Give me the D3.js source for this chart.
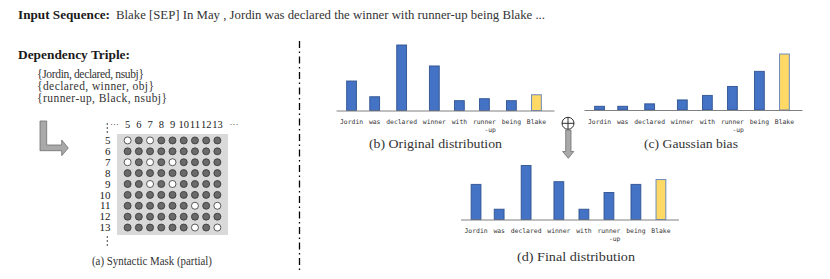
<!DOCTYPE html>
<html>
<head>
<meta charset="utf-8">
<script src="https://cdn.jsdelivr.net/npm/d3@7"></script>
<style>
  body { margin: 0; background: #fff; }
  svg { display: block; }
</style>
</head>
<body>
<script>
// ---- data ----
const inputSequence = "Blake [SEP] In May , Jordin was declared the winner with runner-up being Blake ...";
const triples = ["{Jordin, declared, nsubj}", "{declared, winner, obj}", "{runner-up, Black, nsubj}"];

const tokens = ["Jordin", "was", "declared", "winner", "with", "runner\n-up", "being", "Blake"];
const originalDist = [0.45, 0.21, 1.0, 0.68, 0.15, 0.18, 0.15, 0.24];
const gaussianBias = [0.066, 0.066, 0.11, 0.18, 0.26, 0.42, 0.69, 1.0];
const finalDist = [0.65, 0.19, 1.0, 0.70, 0.19, 0.50, 0.65, 0.74];
const targetToken = "Blake";

const maskIdx = [5, 6, 7, 8, 9, 10, 11, 12, 13];
// [row, col] cells that are open (white) in the mask
const openCells = [[5, 5], [5, 7], [7, 5], [7, 7], [7, 9], [9, 7], [9, 9], [11, 11], [11, 13], [13, 11], [13, 13]];

const serif = "'Liberation Serif', 'DejaVu Serif', serif";
const mono = "'DejaVu Sans Mono', 'Liberation Mono', monospace";
const ink = "#1a1a1a";

const svg = d3.select("body").append("svg")
  .attr("width", 830)
  .attr("height", 279);

// fit text into a measured width
function fitText(sel, len, mode) {
  sel.attr("textLength", len).attr("lengthAdjust", mode || "spacingAndGlyphs");
}

// ---- header ----
svg.append("text")
  .attr("x", 18).attr("y", 19)
  .attr("font-family", serif).attr("font-size", 12.5).attr("font-weight", "bold")
  .attr("fill", ink)
  .text("Input Sequence:")
  .call(fitText, 92);

svg.append("text")
  .attr("x", 116).attr("y", 19)
  .attr("font-family", serif).attr("font-size", 12.5)
  .attr("fill", "#333")
  .text(inputSequence)
  .call(fitText, 429);

// ---- left panel ----
svg.append("text")
  .attr("x", 18).attr("y", 59)
  .attr("font-family", serif).attr("font-size", 13).attr("font-weight", "bold")
  .attr("fill", ink)
  .text("Dependency Triple:")
  .call(fitText, 112);

const tripleLen = [107, 117, 130];
svg.selectAll("text.triple")
  .data(triples)
  .join("text")
  .attr("class", "triple")
  .attr("x", 37)
  .attr("y", (d, i) => 77.5 + i * 12)
  .attr("font-family", serif).attr("font-size", 11.5)
  .attr("fill", "#333")
  .text(d => d)
  .each(function (d, i) { d3.select(this).call(fitText, tripleLen[i], "spacing"); });

// bent arrow
svg.append("path")
  .attr("d", "M40,121 H46.7 V145 H61.7 V140 L68.3,148 L61.7,155.7 V150.7 H40 Z")
  .attr("fill", "#a9a9a9")
  .attr("stroke", "#6f6f6f")
  .attr("stroke-width", 0.8);

// syntactic mask
const colX = d3.scaleBand().domain(maskIdx).range([122, 223]);
const rowY = d3.scaleBand().domain(maskIdx).range([135, 233]);
const openSet = new Set(openCells.map(d => d.join("-")));

svg.append("rect")
  .attr("x", 117).attr("y", 134)
  .attr("width", 111).attr("height", 101)
  .attr("fill", "#d9d9d9");

const cells = maskIdx.flatMap(r => maskIdx.map(c => ({ r, c })));
svg.selectAll("circle.cell")
  .data(cells)
  .join("circle")
  .attr("class", "cell")
  .attr("cx", d => colX(d.c) + colX.bandwidth() / 2)
  .attr("cy", d => rowY(d.r) + rowY.bandwidth() / 2)
  .attr("r", 3.5)
  .attr("fill", d => openSet.has(d.r + "-" + d.c) ? "#fff" : "#6a6a6a")
  .attr("stroke", "#333")
  .attr("stroke-width", 0.8);

svg.selectAll("text.colLab")
  .data(maskIdx)
  .join("text")
  .attr("class", "colLab")
  .attr("x", d => colX(d) + colX.bandwidth() / 2)
  .attr("y", 128)
  .attr("text-anchor", "middle")
  .attr("font-family", serif).attr("font-size", 10.5)
  .attr("fill", ink)
  .text(d => d)
  .each(function (d) { if (d >= 10) d3.select(this).call(fitText, 10.5); });

svg.append("text")
  .attr("x", 114.5).attr("y", 127).attr("text-anchor", "middle")
  .attr("font-family", serif).attr("font-size", 9).attr("fill", ink)
  .text("\u00b7\u00b7\u00b7");
svg.append("text")
  .attr("x", 234).attr("y", 127).attr("text-anchor", "middle")
  .attr("font-family", serif).attr("font-size", 9).attr("fill", ink)
  .text("\u00b7\u00b7\u00b7");

svg.selectAll("text.rowLab")
  .data(maskIdx)
  .join("text")
  .attr("class", "rowLab")
  .attr("x", 110.5)
  .attr("y", d => rowY(d) + rowY.bandwidth() / 2 + 3.7)
  .attr("text-anchor", "end")
  .attr("font-family", serif).attr("font-size", 11)
  .attr("fill", ink)
  .text(d => d);

// vertical ellipses
[[124, 128, 132], [237, 241, 245]].forEach(ys => {
  svg.append("g").selectAll("circle")
    .data(ys)
    .join("circle")
    .attr("cx", 107.3).attr("cy", d => d).attr("r", 0.75)
    .attr("fill", ink);
});

svg.append("text")
  .attr("x", 152).attr("y", 264.5).attr("text-anchor", "middle")
  .attr("font-family", serif).attr("font-size", 13)
  .attr("fill", "#333")
  .text("(a) Syntactic Mask (partial)")
  .call(fitText, 120);

// divider
svg.append("line")
  .attr("x1", 299.5).attr("x2", 299.5)
  .attr("y1", 41).attr("y2", 273)
  .attr("stroke", "#000")
  .attr("stroke-width", 1.3)
  .attr("stroke-dasharray", "7,3.5,1.5,3.5");

// ---- distribution charts ----
// measure monospace character width for the token labels
const probe = svg.append("text")
  .attr("font-family", mono).attr("font-size", 6.4)
  .text("declared");
const charW = probe.node().getComputedTextLength() / 8;
probe.remove();
const gap = 5.8;

function tokenWidth(t) {
  return d3.max(t.split("\n"), s => s.length) * charW;
}

function drawDist(values, opt) {
  const g = svg.append("g");
  // label-driven x positions
  const starts = [];
  let acc = opt.x0 + 3.5;
  tokens.forEach(t => { starts.push(acc); acc += tokenWidth(t) + gap; });
  const centers = tokens.map((t, i) => starts[i] + tokenWidth(t) / 2);
  const x = d3.scaleOrdinal().domain(tokens).range(centers);
  const y = d3.scaleLinear().domain([0, 1]).range([opt.base, opt.base - opt.maxH]);
  const bw = 9.8;

  const data = tokens.map((t, i) => ({ t, v: values[i] }));

  g.selectAll("rect")
    .data(data)
    .join("rect")
    .attr("x", d => x(d.t) - bw / 2)
    .attr("y", d => y(d.v))
    .attr("width", bw)
    .attr("height", d => y(0) - y(d.v))
    .attr("fill", d => d.t === targetToken ? "#ffd966" : "#4472c4")
    .attr("stroke", d => d.t === targetToken ? "#5b7fc0" : "#2f528f")
    .attr("stroke-width", 1)
    .attr("stroke-opacity", 0.9);

  g.append("line")
    .attr("x1", opt.x0).attr("x2", opt.x0 + 218)
    .attr("y1", opt.base + 0.5).attr("y2", opt.base + 0.5)
    .attr("stroke", "#808080")
    .attr("stroke-width", 1);

  const lab = g.selectAll("text.tok")
    .data(tokens)
    .join("text")
    .attr("class", "tok")
    .attr("font-family", mono).attr("font-size", 6.4)
    .attr("fill", "#333");
  lab.each(function (t, i) {
    const lines = t.split("\n");
    const w = tokenWidth(t);
    lines.forEach((s, k) => {
      d3.select(this).append("tspan")
        .attr("x", starts[i] + w - s.length * charW)
        .attr("y", opt.base + 13.5 + k * 8)
        .text(s);
    });
  });

  g.append("text")
    .attr("x", opt.capX).attr("y", opt.capY)
    .attr("text-anchor", "middle")
    .attr("font-family", serif).attr("font-size", 13.5)
    .attr("fill", "#333")
    .text(opt.caption)
    .call(fitText, opt.capW);
}

drawDist(originalDist, { x0: 336.5, base: 110.5, maxH: 65.5, caption: "(b) Original distribution", capX: 435.5, capY: 147.5, capW: 133 });
drawDist(gaussianBias, { x0: 584.5, base: 110, maxH: 56, caption: "(c) Gaussian bias", capX: 691, capY: 147.5, capW: 94 });
drawDist(finalDist, { x0: 461, base: 219.5, maxH: 54, caption: "(d) Final distribution", capX: 576, capY: 260.5, capW: 118 });

// oplus and down arrow between the charts
const op = svg.append("g").attr("transform", "translate(568,123.3)");
op.append("circle").attr("r", 6).attr("fill", "#fff").attr("stroke", ink).attr("stroke-width", 0.9);
op.append("line").attr("x1", -6).attr("x2", 6).attr("stroke", ink).attr("stroke-width", 0.9);
op.append("line").attr("y1", -6).attr("y2", 6).attr("stroke", ink).attr("stroke-width", 0.9);

svg.append("path")
  .attr("d", "M565.7,130 H571 V151.5 H573.8 L568.3,158.3 L562.6,151.5 H565.7 Z")
  .attr("fill", "#a9a9a9")
  .attr("stroke", "#6f6f6f")
  .attr("stroke-width", 0.8);
</script>
</body>
</html>
